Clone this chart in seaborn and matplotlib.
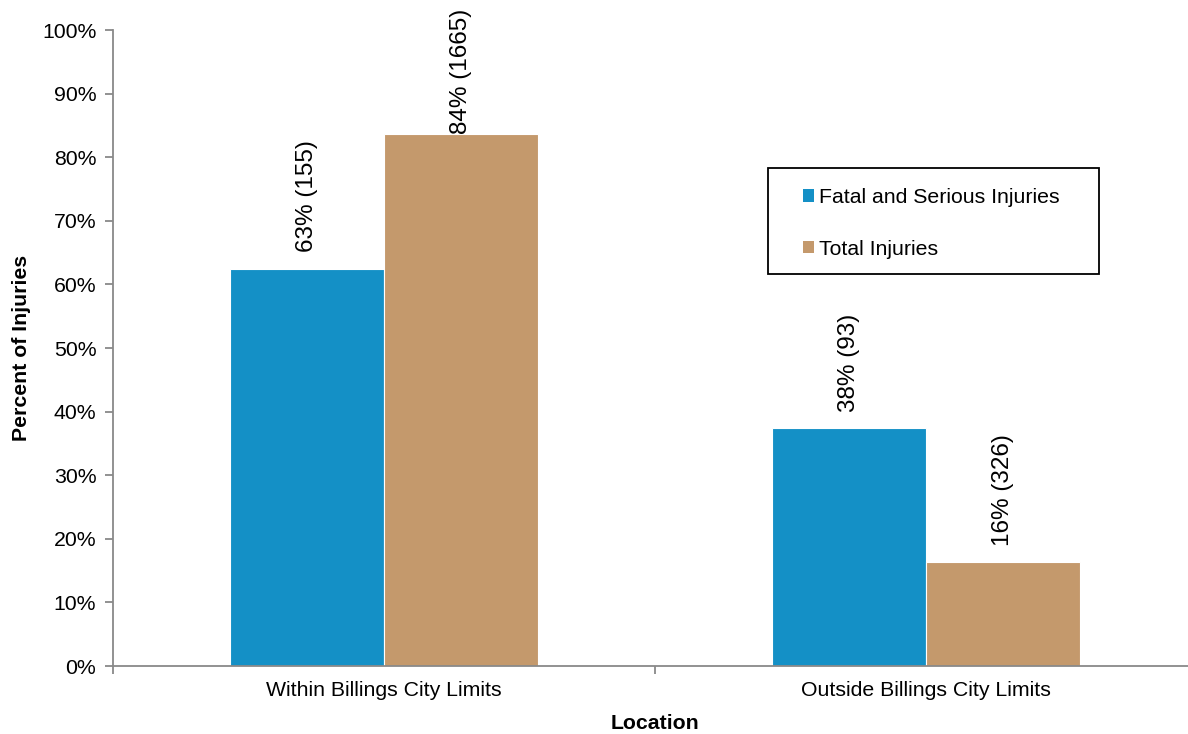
import matplotlib
matplotlib.use("Agg")
import matplotlib.pyplot as plt
import seaborn as sns
import pandas as pd
from matplotlib.patches import Patch, Rectangle
from matplotlib.transforms import offset_copy

categories = ["Within Billings City Limits", "Outside Billings City Limits"]
series = ["Fatal and Serious Injuries", "Total Injuries"]
fatal_pct = [62.5, 37.5]
total_pct = [83.6, 16.4]
fatal_labels = ["63% (155)", "38% (93)"]
total_labels = ["84% (1665)", "16% (326)"]
colors = ["#1490C6", "#C4996C"]

df = pd.DataFrame({
    "Location": categories * 2,
    "Series": [series[0]] * 2 + [series[1]] * 2,
    "Pct": fatal_pct + total_pct,
})
label_list = fatal_labels + total_labels

sns.set_theme(style="white")
plt.rcParams["font.family"] = ["Liberation Sans", "DejaVu Sans"]

FS = 15.3
fig = plt.figure(figsize=(11.88, 7.34), dpi=100)
ax = fig.add_axes([113 / 1188, (734 - 666) / 734, (1197 - 113) / 1188, 636 / 734])

sns.barplot(data=df, x="Location", y="Pct", hue="Series", order=categories,
            hue_order=series, palette=colors, width=0.568, saturation=1,
            edgecolor="white", linewidth=0.8, ax=ax, legend=False)

ax.set_ylim(0, 100)
ax.set_xlim(-0.5, 1.5)
ax.set_yticks(range(0, 101, 10))
ax.set_yticklabels([f"{v}%" for v in range(0, 101, 10)], fontsize=FS, color="black")
ax.set_xticks([0, 1])
ax.set_xticklabels(categories, fontsize=FS, color="black")
ax.set_xticks([-0.5, 0.5, 1.5], minor=True)
ax.tick_params(axis="x", which="major", length=0, pad=11)
ax.tick_params(axis="x", which="minor", length=6, color="#898989", width=1.3, direction="out")
ax.tick_params(axis="y", which="major", length=6, color="#898989", width=1.3, direction="out", pad=6)
ax.yaxis.set_tick_params(left=True)
ax.xaxis.set_tick_params(which="minor", bottom=True)

for s in ["top", "right"]:
    ax.spines[s].set_visible(False)
for s in ["left", "bottom"]:
    ax.spines[s].set_color("#898989")
    ax.spines[s].set_linewidth(1.3)

ax.set_ylabel("Percent of Injuries", fontsize=FS, fontweight="bold", labelpad=8, color="black")
ax.set_xlabel("Location", fontsize=FS, fontweight="bold", labelpad=10, color="black")

for p in ax.patches:
    h = p.get_height()
    if h <= 0:
        continue
    xc = p.get_x() + p.get_width() / 2
    idx = df.index[(df["Pct"] - h).abs() < 1e-6][0]
    txt = label_list[idx]
    off = 0 if h > 80 else 16
    tr = offset_copy(ax.transData, fig=fig, x=0, y=off * 72 / 100, units="points")
    ax.text(xc, h, txt, rotation=90, ha="center", va="bottom", fontsize=17.5,
            color="black", transform=tr)

handles = [Patch(facecolor=c, edgecolor="none") for c in colors]
leg = fig.legend(handles, series, loc="upper left",
                 bbox_to_anchor=(803 / 1188, (734 - 188) / 734),
                 frameon=False, fontsize=FS, handlelength=0.5, handleheight=0.5,
                 handletextpad=0.25, labelspacing=1.55, borderpad=0, borderaxespad=0)
for t in leg.get_texts():
    t.set_color("black")
fig.add_artist(Rectangle((768 / 1188, (734 - 274) / 734), (1099 - 768) / 1188, (274 - 168) / 734,
                         transform=fig.transFigure, fill=False, edgecolor="black", linewidth=1.3))

fig.savefig("out.png", dpi=100)
